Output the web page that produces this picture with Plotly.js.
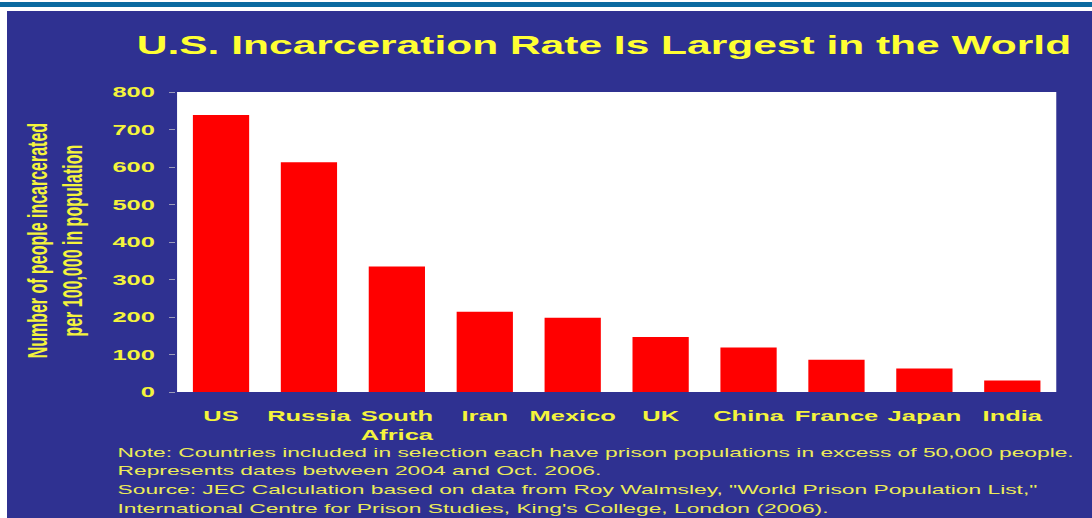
<!DOCTYPE html>
<html>
<head>
<meta charset="utf-8">
<script src="https://cdn.plot.ly/plotly-3.0.1.min.js"></script>
<style>
  html, body { margin: 0; padding: 0; background: #ffffff; }
  body { width: 1092px; height: 518px; overflow: hidden; position: relative; }
  #topline { position: absolute; left: 0; top: 2px; width: 1092px; height: 5px; background: #0b6aa0; }
  #wrap { position: absolute; left: 7px; top: 11px; width: 1085px; height: 507px; background: #2f3191; overflow: hidden; }
  #chart { width: 638px; height: 507px; transform: scaleX(1.7006); transform-origin: 0 0; }
</style>
</head>
<body>
<div id="topline"></div>
<div id="wrap"><div id="chart"></div></div>
<script>
const countries = ["US", "Russia", "South<br>Africa", "Iran", "Mexico", "UK", "China", "France", "Japan", "India"];
const ratesPer100k = [739, 613, 335, 214, 198, 147, 119, 86, 63, 31];
const yTickValues = [0, 100, 200, 300, 400, 500, 600, 700, 800];
const chartTitle = "U.S. Incarceration Rate Is Largest in the World";
const yTitleLines = ["Number of people incarcerated", "per 100,000 in population"];
const noteLines = [
  "Note: Countries included in selection each have prison populations in excess of 50,000 people.",
  "Represents dates between 2004 and Oct. 2006.",
  "Source: JEC Calculation based on data from Roy Walmsley, \"World Prison Population List,\"",
  "International Centre for Prison Studies, King's College, London (2006)."
];

const FONT = "Liberation Sans, Arial, sans-serif";
const YEL = "#f4f43c";
const NOTE_YEL = "#ecec58";

const trace = {
  type: "bar",
  x: countries,
  y: ratesPer100k,
  marker: { color: "#ff0000", line: { width: 0 } },
  hoverinfo: "x+y"
};

const noteY = [-0.202, -0.263, -0.325, -0.387];
const annotations = noteLines.map((t, i) => ({
  text: t, xref: "paper", yref: "paper", x: -0.0717, y: noteY[i],
  xanchor: "left", yanchor: "middle", showarrow: false, align: "left",
  font: { family: FONT, size: 13.4, color: NOTE_YEL }
}));
annotations.push({
  text: yTitleLines.join("<br>"), xref: "paper", yref: "paper", x: -0.1394, y: 0.505,
  xanchor: "center", yanchor: "middle", showarrow: false, textangle: -90, align: "center",
  font: { family: FONT, size: 16, color: YEL, weight: "bold" }
});

const layout = {
  width: 638, height: 507,
  margin: { l: 100, r: 21, t: 81, b: 126 },
  paper_bgcolor: "#2f3191",
  plot_bgcolor: "#ffffff",
  bargap: 0.36,
  showlegend: false,
  title: {
    text: chartTitle, xref: "container", yref: "container", x: 0.5502, y: 0.933,
    xanchor: "center", yanchor: "middle",
    font: { family: FONT, size: 25, color: "#ffff33", weight: "bold" }
  },
  xaxis: {
    type: "category", categoryorder: "array", categoryarray: countries,
    showgrid: false, zeroline: false, showline: false, ticks: "",
    ticklabelstandoff: 13,
    tickfont: { family: FONT, size: 15, color: YEL, weight: "bold" }
  },
  yaxis: {
    range: [0, 800], tickvals: yTickValues, ticktext: yTickValues.map(String),
    showgrid: false, zeroline: false, showline: false,
    ticks: "outside", ticklen: 4, tickwidth: 1, tickcolor: "#9a9ab8",
    ticklabelstandoff: 5,
    tickfont: { family: FONT, size: 15, color: YEL, weight: "bold" }
  },
  annotations: annotations
};

Plotly.newPlot("chart", [trace], layout, { displayModeBar: false, staticPlot: true });
</script>
</body>
</html>
